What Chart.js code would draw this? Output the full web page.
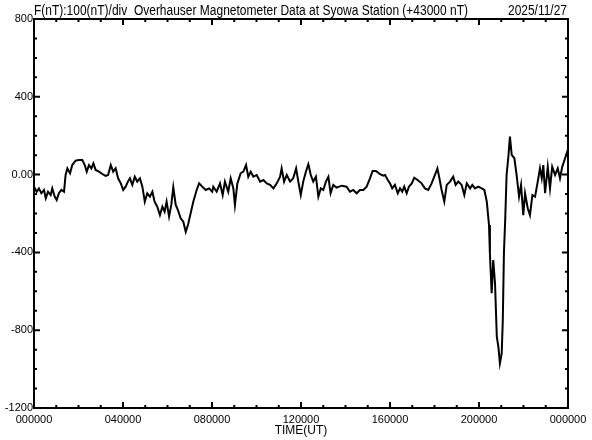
<!DOCTYPE html>
<html>
<head>
<meta charset="utf-8">
<script src="https://cdn.jsdelivr.net/npm/chart.js@4.4.1/dist/chart.umd.min.js"></script>
<style>
  html, body { margin: 0; padding: 0; background: #fff; }
  #wrap { width: 592px; height: 440px; }
</style>
</head>
<body>
<div id="wrap"><canvas id="mag-chart" width="592" height="440"></canvas></div>
<script>
const chartTitle = 'F(nT):100(nT)/div  Overhauser Magnetometer Data at Syowa Station (+43000 nT)';
const chartDate = '2025/11/27';
const axisTitle = 'TIME(UT)';

const xTickValues = [0, 4, 8, 12, 16, 20, 24];
const xTickLabels = ['000000', '040000', '080000', '120000', '160000', '200000', '000000'];
const yTickValues = [800, 400, 0, -400, -800, -1200];
const yTickLabels = ['800', '400', '0.00', '-400', '-800', '-1200'];

// hours UT
const times = [
  0.00, 0.12, 0.22, 0.33, 0.45, 0.53, 0.63, 0.75, 0.82, 0.93,
  1.02, 1.12, 1.23, 1.35, 1.42, 1.50, 1.62, 1.72, 1.87, 2.02,
  2.17, 2.28, 2.37, 2.47, 2.58, 2.67, 2.77, 2.92, 3.07, 3.22,
  3.33, 3.45, 3.56, 3.67, 3.78, 3.90, 4.01, 4.12, 4.22, 4.31,
  4.42, 4.53, 4.64, 4.76, 4.87, 4.98, 5.09, 5.21, 5.32, 5.42,
  5.54, 5.66, 5.77, 5.87, 5.96, 6.07, 6.17, 6.26, 6.37, 6.47,
  6.59, 6.71, 6.82, 6.92, 7.04, 7.16, 7.31, 7.42, 7.56, 7.72,
  7.87, 8.01, 8.06, 8.21, 8.36, 8.48, 8.58, 8.73, 8.84, 8.96,
  9.03, 9.14, 9.29, 9.41, 9.53, 9.63, 9.74, 9.86, 10.01, 10.16,
  10.31, 10.46, 10.61, 10.76, 10.91, 11.06, 11.13, 11.24, 11.36, 11.51,
  11.65, 11.78, 11.88, 11.99, 12.10, 12.22, 12.33, 12.44, 12.55, 12.67,
  12.78, 12.89, 13.00, 13.12, 13.23, 13.33, 13.45, 13.60, 13.83, 14.05,
  14.20, 14.35, 14.50, 14.65, 14.80, 14.95, 15.10, 15.22, 15.37, 15.55,
  15.70, 15.78, 15.90, 16.00, 16.10, 16.22, 16.35, 16.45, 16.55, 16.64,
  16.75, 16.85, 16.98, 17.09, 17.24, 17.42, 17.57, 17.72, 17.87, 18.02,
  18.13, 18.22, 18.32, 18.44, 18.55, 18.70, 18.84, 18.95, 19.07, 19.22,
  19.34, 19.45, 19.60, 19.70, 19.82, 19.97, 20.12, 20.24, 20.35, 20.45,
  20.49, 20.57, 20.64, 20.72, 20.80, 20.87, 20.94, 21.02, 21.07, 21.12,
  21.18, 21.24, 21.32, 21.39, 21.47, 21.59, 21.69, 21.80, 21.89, 21.99,
  22.07, 22.19, 22.29, 22.40, 22.52, 22.64, 22.74, 22.82, 22.89, 22.97,
  23.09, 23.19, 23.29, 23.42, 23.54, 23.64, 23.74, 23.87, 23.99
];

// nT, offset from 43000
const values = [
  -62, -88, -71, -96, -79, -122, -88, -105, -71, -113,
  -131, -96, -79, -88, -2, 32, 7, 49, 72, 75,
  75, 49, 15, 49, 32, 58, 24, 15, 3, -7,
  -2, 49, 15, 32, -19, -45, -79, -62, -36, -19,
  -53, -11, -36, -19, -62, -139, -96, -113, -88, -139,
  -165, -208, -165, -191, -139, -216, -156, -65, -156, -182,
  -225, -242, -294, -259, -199, -139, -79, -45, -62, -79,
  -71, -88, -62, -88, -45, -105, -36, -88, -19, -71,
  -156, -45, 7, 15, 49, -11, 15, -11, -2, -36,
  -28, -45, -53, -71, -45, -11, 32, -36, -2, -36,
  -19, 32, -36, -105, -36, 15, 53, -2, -36, -11,
  -113, -71, -79, -36, -11, -96, -53, -67, -57, -62,
  -88, -79, -96, -79, -79, -62, -19, 19, 19, 2,
  -6, -2, -28, -45, -71, -53, -96, -71, -88, -62,
  -96, -62, -45, -16, -28, -45, -71, -79, -45, -2,
  32, -19, -79, -139, -53, -36, -11, -53, -36, -53,
  -105, -45, -71, -53, -71, -62, -71, -79, -139, -259,
  -405, -610, -439, -559, -833, -885, -970, -919, -748, -405,
  -225, -2, 92, 195, 101, 84, -2, -113, -53, -208,
  -96, -173, -208, -105, -113, -36, 32, -19, 49, -96,
  40, -71, 40, -2, 32, -19, 40, 84, 126
];

(function () {
  const ctx = document.getElementById('mag-chart').getContext('2d');
  const FONT = '"Liberation Sans", Arial, sans-serif';

  const frameAndTicks = {
    id: 'frameAndTicks',
    afterDraw(chart) {
      const xs = chart.scales.x;
      const ys = chart.scales.y;
      const a = chart.chartArea;
      const c = chart.ctx;
      c.save();
      c.strokeStyle = '#000';
      c.lineWidth = 2;
      c.strokeRect(a.left, a.top, a.right - a.left, a.bottom - a.top);

      c.beginPath();
      for (let h = xs.min; h <= xs.max; h += 1) {
        const x = xs.getPixelForValue(h);
        const len = xTickValues.includes(h) ? 6 : 3;
        c.moveTo(x, a.bottom);
        c.lineTo(x, a.bottom - len);
        c.moveTo(x, a.top);
        c.lineTo(x, a.top + len);
      }
      for (let v = ys.min; v <= ys.max; v += 100) {
        const y = ys.getPixelForValue(v);
        const len = yTickValues.includes(v) ? 6 : 3;
        c.moveTo(a.left, y);
        c.lineTo(a.left + len, y);
        c.moveTo(a.right, y);
        c.lineTo(a.right - len, y);
      }
      c.stroke();

      c.fillStyle = '#000';
      c.font = '14px ' + FONT;
      c.textBaseline = 'alphabetic';
      c.textAlign = 'left';
      c.fillText(chartTitle, a.left, 15, 434);
      c.textAlign = 'right';
      c.fillText(chartDate, a.right - 1, 15, 59);
      c.restore();
    },
  };

  new Chart(ctx, {
    type: 'line',
    data: {
      datasets: [{
        data: times.map((t, i) => ({ x: t, y: values[i] })),
        borderColor: '#000',
        borderWidth: 2,
        pointRadius: 0,
        tension: 0,
        fill: false,
      }],
    },
    options: {
      responsive: false,
      animation: false,
      devicePixelRatio: 1,
      layout: { padding: { top: 19, right: 24, left: 0, bottom: 0 } },
      plugins: { legend: { display: false }, tooltip: { enabled: false } },
      scales: {
        x: {
          type: 'linear',
          min: 0,
          max: 24,
          afterFit: (s) => { s.height = 32; },
          afterBuildTicks: (s) => { s.ticks = xTickValues.map((v) => ({ value: v })); },
          ticks: {
            autoSkip: false,
            maxRotation: 0,
            padding: 5,
            color: '#000',
            font: { family: FONT, size: 11 },
            callback: (v, i) => xTickLabels[i],
          },
          grid: { display: false, drawTicks: false },
          border: { display: false },
          title: {
            display: true,
            text: axisTitle,
            color: '#000',
            font: { family: FONT, size: 12 },
            padding: { top: 0, bottom: 2 },
          },
        },
        y: {
          min: -1200,
          max: 800,
          afterFit: (s) => { s.width = 34; },
          afterBuildTicks: (s) => { s.ticks = yTickValues.map((v) => ({ value: v })); },
          ticks: {
            autoSkip: false,
            padding: 1,
            color: '#000',
            font: { family: FONT, size: 11 },
            callback: (v, i) => yTickLabels[i],
          },
          grid: { display: false, drawTicks: false },
          border: { display: false },
        },
      },
    },
    plugins: [frameAndTicks],
  });
})();
</script>
</body>
</html>
